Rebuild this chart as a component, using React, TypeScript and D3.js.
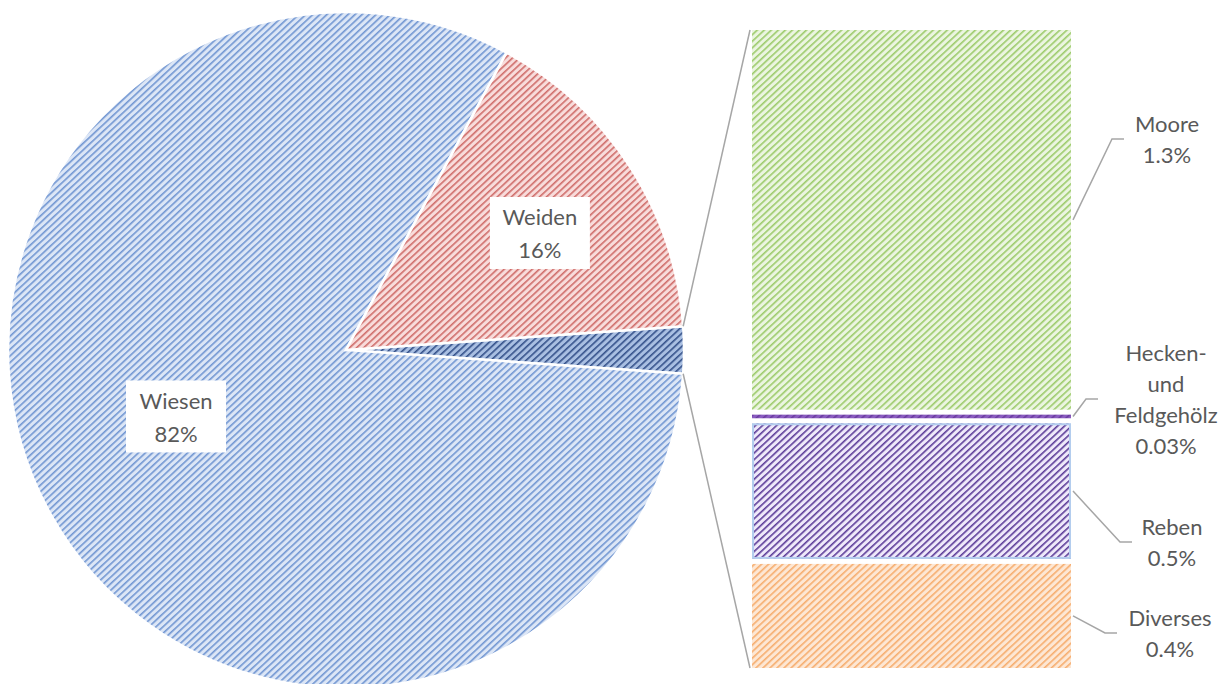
import * as React from 'react'
import * as d3 from 'd3'

// pie: main categories (the rest is split out into the bar)
const pieCategories = ['Wiesen', 'Weiden']
const pieValues = [81.76, 16.0]
const pieLabels = ['82%', '16%']

// bar: breakdown of the small slice
const barCategories = [['Moore'], ['Hecken-', 'und', 'Feldgehölz'], ['Reben'], ['Diverses']]
const barValues = [1.34, 0.03, 0.49, 0.38]
const barLabels = ['1.3%', '0.03%', '0.5%', '0.4%']

const W = 1231
const H = 684

const pieStyle: Record<string, { bg: string; fg: string }> = {
  Wiesen: { bg: '#dce6f6', fg: '#7196d2' },
  Weiden: { bg: '#f8dcdb', fg: '#cf6d6a' },
  other: { bg: '#a9bfe2', fg: '#34518a' },
}
const barStyle = [
  { bg: '#ebf5e0', fg: '#9ccb6b', border: null },
  { bg: '#8a5cc0', fg: '#6a3aa0', border: null },
  { bg: '#efe9fa', fg: '#5c3c98', border: '#b3cdee' },
  { bg: '#fde7d4', fg: '#f6ad6e', border: null },
]

export default function App() {
  const svgRef = React.useRef<SVGSVGElement>(null)

  React.useEffect(() => {
    if (!svgRef.current) return
    const svg = d3.select(svgRef.current)
    svg.selectAll('*').remove()

    const defs = svg.append('defs')
    const addPattern = (id: string, bg: string, fg: string) => {
      const s = 4.8
      const p = defs
        .append('pattern')
        .attr('id', id)
        .attr('patternUnits', 'userSpaceOnUse')
        .attr('width', s)
        .attr('height', s)
        .attr('patternTransform', 'rotate(47)')
      p.append('rect').attr('width', s).attr('height', s).attr('fill', bg)
      p.append('rect').attr('width', 1.6).attr('height', s).attr('fill', fg)
    }
    Object.entries(pieStyle).forEach(([k, c]) => addPattern(`pat-${k}`, c.bg, c.fg))
    barStyle.forEach((c, i) => addPattern(`bar-${i}`, c.bg, c.fg))

    const font = 'Lato, "Open Sans", sans-serif'
    const textColor = '#595959'
    const lineColor = '#a6a6a6'

    // ---- pie ----
    const cx = 346
    const cy = 350
    const r = 338
    const otherTotal = d3.sum(barValues)
    const total = d3.sum(pieValues) + otherTotal
    const otherHalf = (Math.PI * otherTotal) / total

    const slices = [
      { name: 'other', value: otherTotal, label: '' },
      ...pieCategories.map((c, i) => ({ name: c, value: pieValues[i], label: pieLabels[i] })),
    ]
    const pie = d3
      .pie<(typeof slices)[number]>()
      .sort(null)
      .value((d) => d.value)
      .startAngle(Math.PI / 2 - otherHalf)
      .endAngle(Math.PI / 2 - otherHalf + Math.PI * 2)
    const arcs = pie(slices)
    const arc = d3.arc<d3.PieArcDatum<(typeof slices)[number]>>().innerRadius(0).outerRadius(r)

    const g = svg.append('g').attr('transform', `translate(${cx},${cy})`)
    g.selectAll('path.slice')
      .data(arcs)
      .join('path')
      .attr('class', 'slice')
      .attr('d', arc)
      .attr('fill', (d) => `url(#pat-${d.data.name})`)
      .attr('stroke', '#fff')
      .attr('stroke-width', 2.5)

    // label placement (radius fraction, angle nudge in rad)
    const labelPlace: Record<string, [number, number]> = { Wiesen: [0.54, 0.13], Weiden: [0.67, 0.03] }
    arcs
      .filter((d) => d.data.label)
      .forEach((d) => {
        const [f, nudge] = labelPlace[d.data.name]
        const a = (d.startAngle + d.endAngle) / 2 + nudge
        const lx = Math.sin(a) * r * f
        const ly = -Math.cos(a) * r * f
        g.append('rect')
          .attr('x', lx - 50)
          .attr('y', ly - 36)
          .attr('width', 100)
          .attr('height', 72)
          .attr('fill', '#fff')
        ;[d.data.name, d.data.label].forEach((t, j) => {
          g.append('text')
            .attr('x', lx)
            .attr('y', ly - 16 + j * 33)
            .attr('text-anchor', 'middle')
            .attr('dominant-baseline', 'central')
            .attr('font-family', font)
            .attr('font-size', 22)
            .attr('fill', textColor)
            .text(t)
        })
      })

    // ---- bar ----
    const bx0 = 752
    const bx1 = 1071
    const gap = 5
    const y = d3
      .scaleLinear()
      .domain([0, otherTotal])
      .range([30 - gap / 2, 668 + gap / 2])

    const other = arcs[0]
    const px0 = cx + Math.sin(other.startAngle) * r
    const py0 = cy - Math.cos(other.startAngle) * r
    const px1 = cx + Math.sin(other.endAngle) * r
    const py1 = cy - Math.cos(other.endAngle) * r
    svg.append('line').attr('x1', px0).attr('y1', py0).attr('x2', bx0 - 2).attr('y2', y(0) + gap / 2)
      .attr('stroke', lineColor).attr('stroke-width', 1.5)
    svg.append('line').attr('x1', px1).attr('y1', py1).attr('x2', bx0 - 2).attr('y2', y(otherTotal) - gap / 2)
      .attr('stroke', lineColor).attr('stroke-width', 1.5)

    // label anchor (elbow x, elbow y, text center x) for each bar segment
    const barLabelPos = [
      [1112, 139, 1167],
      [1086, 399, 1166],
      [1120, 542, 1172],
      [1105, 633, 1170],
    ]

    let cum = 0
    barValues.forEach((v, i) => {
      const y0 = y(cum) + gap / 2
      const y1 = y(cum + v) - gap / 2
      cum += v
      const st = barStyle[i]
      svg.append('rect')
        .attr('x', bx0)
        .attr('y', y0)
        .attr('width', bx1 - bx0)
        .attr('height', Math.max(1.5, y1 - y0))
        .attr('fill', `url(#bar-${i})`)
      if (st.border) {
        svg.append('rect')
          .attr('x', bx0 + 1)
          .attr('y', y0 + 1)
          .attr('width', bx1 - bx0 - 2)
          .attr('height', y1 - y0 - 2)
          .attr('fill', 'none')
          .attr('stroke', st.border)
          .attr('stroke-width', 2)
      }

      const [ex, ey, tx] = barLabelPos[i]
      const my = (y0 + y1) / 2
      svg.append('polyline')
        .attr('points', `${bx1 + 2},${my} ${ex},${ey} ${ex + 12},${ey}`)
        .attr('fill', 'none')
        .attr('stroke', lineColor)
        .attr('stroke-width', 1.5)

      const lines = [...barCategories[i], barLabels[i]]
      const top = ey - ((lines.length - 1) * 31) / 2
      lines.forEach((t, j) => {
        svg.append('text')
          .attr('x', tx)
          .attr('y', top + j * 31)
          .attr('text-anchor', 'middle')
          .attr('dominant-baseline', 'central')
          .attr('font-family', font)
          .attr('font-size', 22)
          .attr('fill', textColor)
          .text(t)
      })
    })
  }, [])

  return (
    <div style={{ position: 'absolute', left: 0, top: 0, background: '#fff' }}>
      <svg ref={svgRef} width={W} height={H} style={{ display: 'block' }} />
    </div>
  )
}
